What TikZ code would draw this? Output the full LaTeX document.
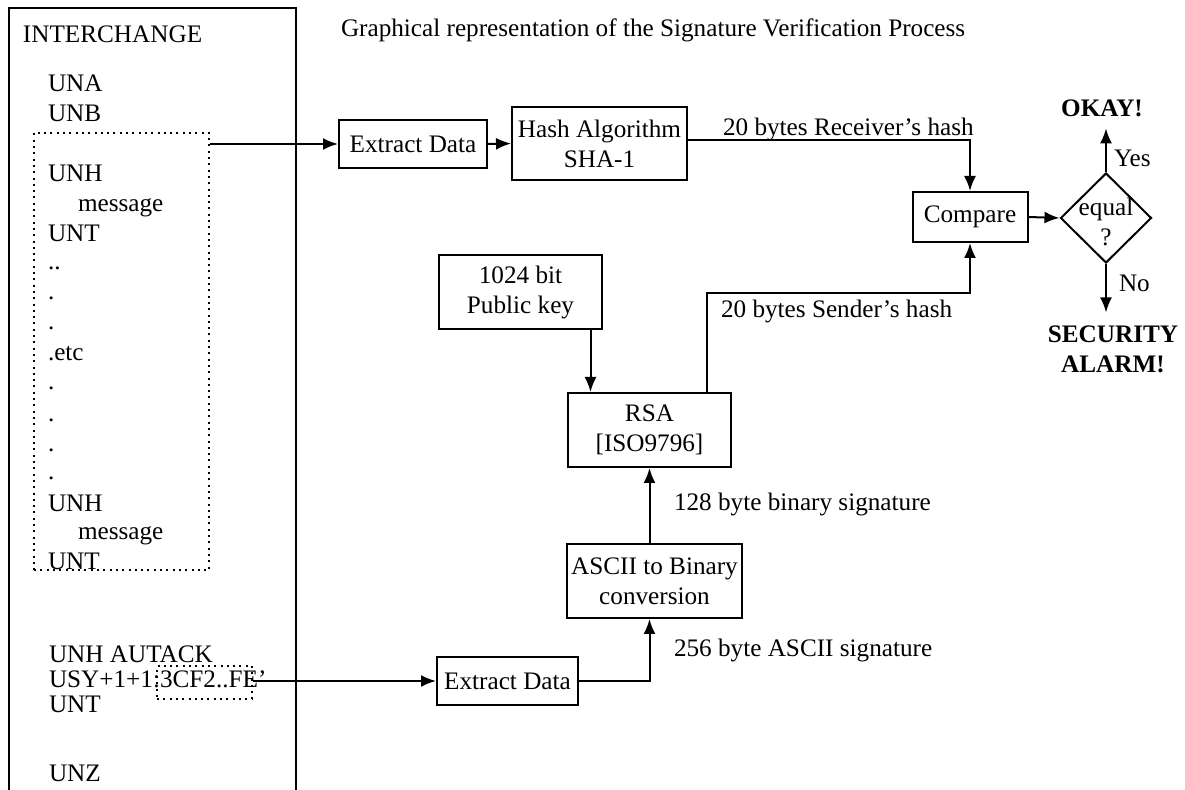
\documentclass[tikz,border=0pt]{standalone}
\usepackage{fontspec}
\setmainfont{Liberation Serif}
\usetikzlibrary{arrows.meta,shapes.geometric}

\begin{document}
\begin{tikzpicture}[x=0.5pt, y=-0.5pt, line width=1pt,
  font=\fontsize{12.6pt}{15pt}\selectfont,
  txt/.style={inner sep=0pt, anchor=base west},
  bold/.style={font=\fontsize{12.6pt}{15pt}\selectfont\bfseries},
  blk/.style={draw, rectangle, inner sep=0pt, align=center},
  dotbox/.style={draw, dash pattern=on 1pt off 2.15pt, inner sep=0pt},
  dec/.style={draw, diamond, inner sep=0pt, minimum width=45.5pt, minimum height=45pt},
  arr/.style={-{Latex[length=7.5pt,width=6pt]}}]
\useasboundingbox (0,0) rectangle (1185,790);

\draw (9,790) -- (9,8) -- (296,8) -- (296,790);
\node[txt] (ich) at (22,43) {INTERCHANGE};
\node[txt] (una) at (47,92) {UNA};
\node[txt] (unb) at (47,122) {UNB};
\node[txt] (unh1) at (47,182) {UNH};
\node[txt] (msg1) at (77,212) {message};
\node[txt] (unt1) at (47,242) {UNT};
\node[txt] (d1) at (47,270) {..};
\node[txt] (d2) at (47,300) {.};
\node[txt] (d3) at (47,330) {.};
\node[txt] (etc) at (47,361) {.etc};
\node[txt] (d4) at (47,390) {.};
\node[txt] (d5) at (47,422) {.};
\node[txt] (d6) at (47,452) {.};
\node[txt] (d7) at (47,480) {.};
\node[txt] (unh2) at (47,512) {UNH};
\node[txt] (msg2) at (77,540) {message};
\node[txt] (unt2) at (47,570) {UNT};
\node[txt] (aut) at (48,663) {UNH AUTACK};
\node[txt] (usy) at (48,688) {USY+1+1:3CF2..FE'};
\node[txt] (unt3) at (48,713) {UNT};
\node[txt] (unz) at (48,782) {UNZ};
\node[dotbox, minimum width=87.5pt, minimum height=218.5pt] (msgs) at (121.5,351.5) {};
\node[dotbox, minimum width=47.5pt, minimum height=16.5pt] (sig) at (204.5,682.5) {};

\node[txt] (title) at (340,37) {Graphical representation of the Signature Verification Process};

\node[blk, minimum width=74pt, minimum height=24pt] (ext1) at (413,144) {Extract Data};
\node[blk, minimum width=87.5pt, minimum height=36.5pt] (hash) at (599.5,143.5) {Hash Algorithm\\SHA-1};
\node[blk, minimum width=57.5pt, minimum height=25pt] (cmp) at (970,217) {Compare};
\node[dec, label={[align=center, inner sep=0pt, yshift=-1.75pt]center:equal\\?}] (eq) at (1106,218) {};
\node[bold, inner sep=0pt, inner ysep=5pt, anchor=base] (ok) at (1102,117) {OKAY!};
\node[bold, inner sep=0pt, inner ysep=6pt, align=center] (alarm) at (1113,349) {SECURITY\\ALARM!};
\node[txt] (yes) at (1113,167) {Yes};
\node[txt] (no) at (1118,292) {No};
\node[blk, minimum width=81.5pt, minimum height=37pt] (pub) at (520.5,292) {1024 bit\\Public key};
\node[blk, minimum width=81.5pt, minimum height=37pt] (rsa) at (649.5,430) {RSA\\{[ISO9796]}};
\node[blk, minimum width=87.5pt, minimum height=37pt] (asc) at (654.5,581) {ASCII to Binary\\conversion};
\node[blk, minimum width=70.5pt, minimum height=24pt] (ext2) at (507.5,681) {Extract Data};

\node[txt] (rhash) at (722,136) {20 bytes Receiver's hash};
\node[txt] (shash) at (720,318) {20 bytes Sender's hash};
\node[txt] (bsig) at (673,511) {128 byte binary signature};
\node[txt] (asig) at (673,657) {256 byte ASCII signature};
\coordinate (sbend) at (707,293);

\draw[arr] (msgs.east |- ext1) -- (ext1.west);
\draw[arr] (ext1.east) -- (hash.west);
\draw[arr] ([yshift=1.75pt]hash.east) -| (cmp.north);
\draw[arr] (rsa.north -| sbend) -- (sbend) -| (cmp.south);
\draw[arr] (cmp.east) -- (eq.west);
\draw[arr] (eq.north) -- (eq.north |- ok.south);
\draw[arr] (eq.south) -- (eq.south |- alarm.north);
\draw[arr] ([xshift=35pt]pub.south) -- ([xshift=35pt]pub.south |- rsa.north);
\draw[arr] (rsa.south |- asc.north) -- (rsa.south);
\draw[arr] (ext2.east) -| (asc.south -| rsa.south);
\draw[arr] (sig.east |- ext2) -- (ext2.west);
\end{tikzpicture}
\end{document}
